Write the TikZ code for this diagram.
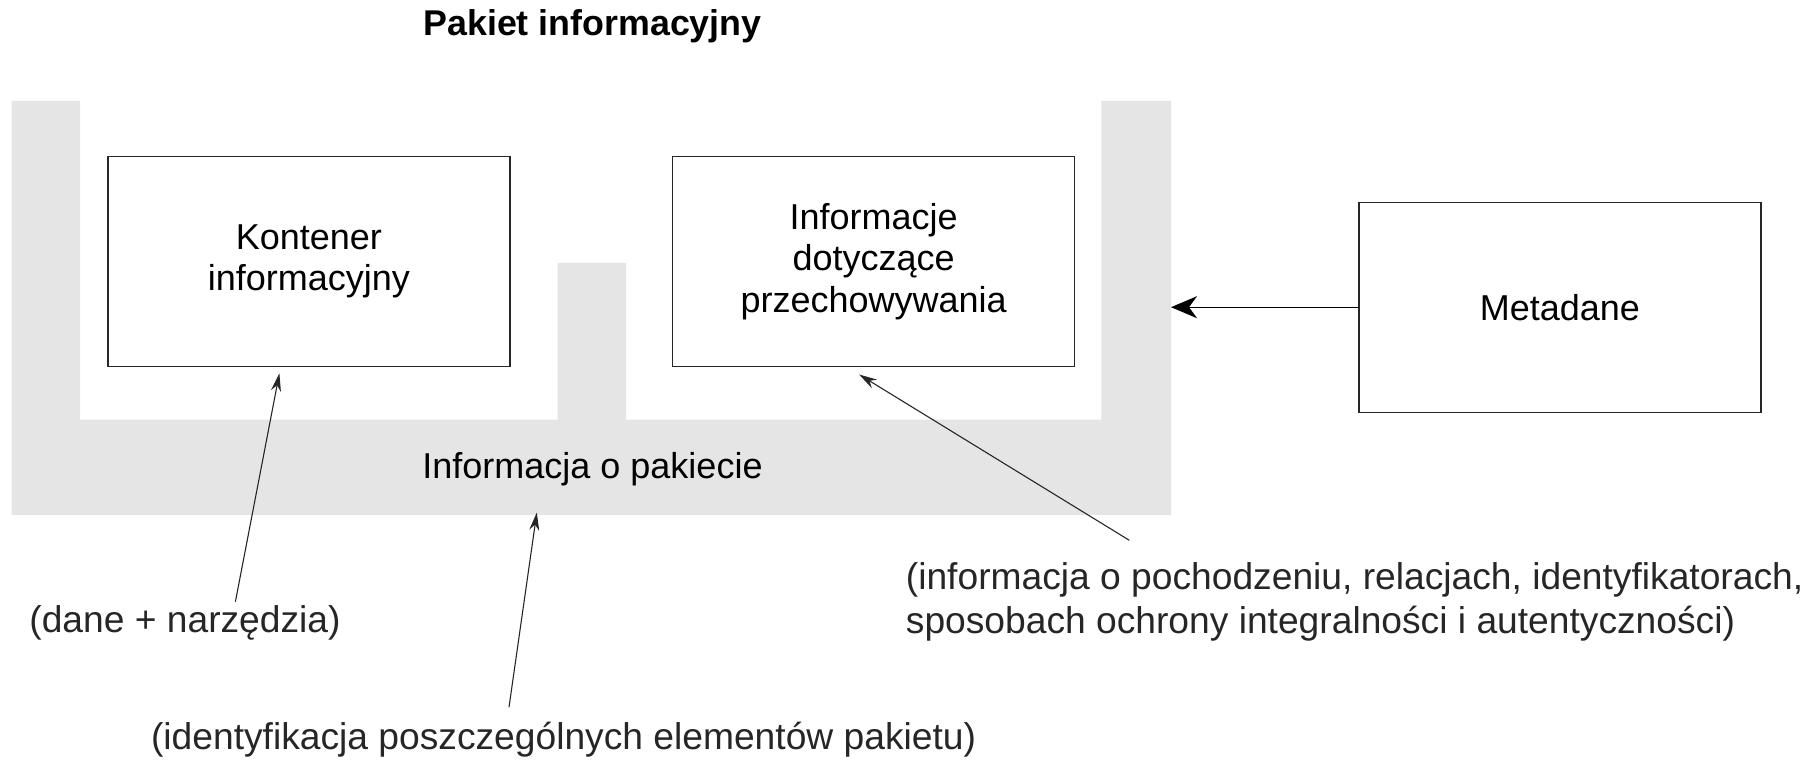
\documentclass[tikz,border=0pt]{standalone}
\usepackage{fontspec}
\setmainfont{Liberation Sans}
\usetikzlibrary{arrows.meta, positioning}

\begin{document}
\begin{tikzpicture}[
    x=0.5pt, y=-0.5pt,
    font=\fontsize{18}{20.6}\selectfont,
    box/.style={rectangle, draw=black!85, line width=0.6pt, fill=white, minimum width=201pt, minimum height=105pt, inner sep=0pt, align=center},
    note/.style={inner sep=0pt, text=black!85, align=left, font=\fontsize{18.6}{22}\selectfont},
    arrow/.style={-{Stealth[length=9pt, width=5pt]}, draw=black!85, line width=0.55pt},
    bigarrow/.style={-{Stealth[length=13pt, width=11pt, inset=4pt]}, draw=black, line width=0.6pt}
]
\useasboundingbox (0,0) rectangle (1818,763);

% Package frame
\fill[black!10] (11.6,100.9) -- (80,100.9) -- (80,419.7) -- (557.7,419.7) -- (557.7,263) -- (626,263)
    -- (626,419.7) -- (1101.4,419.7) -- (1101.4,100.9) -- (1171,100.9) -- (1171,514.8) -- (11.6,514.8) -- cycle;
\coordinate (frame_east) at (1171,307.2);

% Nodes
\node (title) [inner sep=0pt, font=\fontsize{17.9}{20.6}\selectfont\bfseries] at (592.5,26.7) {Pakiet informacyjny};
\node (kontener) [box] at (308.9,261.5) {Kontener\\informacyjny};
\node (przech) [box] at (873.6,261.5) {Informacje\\dotyczące\\przechowywania};
\node (meta) [box] at (1559.9,307.2) {Metadane};
\node (pakinfo) [inner sep=0pt] at (592.5,469.6) {Informacja o pakiecie};

\node (dane) [note, anchor=west] at (29,622.6) {(dane + narzędzia)};
\node (ident) [note, anchor=west] at (150.7,739.7) {(identyfikacja poszczególnych elementów pakietu)};
\node (pochodz) [note, anchor=north west] at (905.5,562) {(informacja o pochodzeniu, relacjach, identyfikatorach,\\sposobach ochrony integralności i autentyczności)};

% Arrow ends
\coordinate (dane_end) at (235.4,601.7);
\coordinate (ident_end) at (509,707.2);
\coordinate (pochodz_end) at (1129.3,540.3);

% Paths
\draw [bigarrow] (meta.west) -- (frame_east);
\draw [arrow] (dane_end) -- (279.4,373.3);
\draw [arrow] (ident_end) -- (536.8,512.5);
\draw [arrow] (pochodz_end) -- (859.1,374.5);

\end{tikzpicture}
\end{document}
